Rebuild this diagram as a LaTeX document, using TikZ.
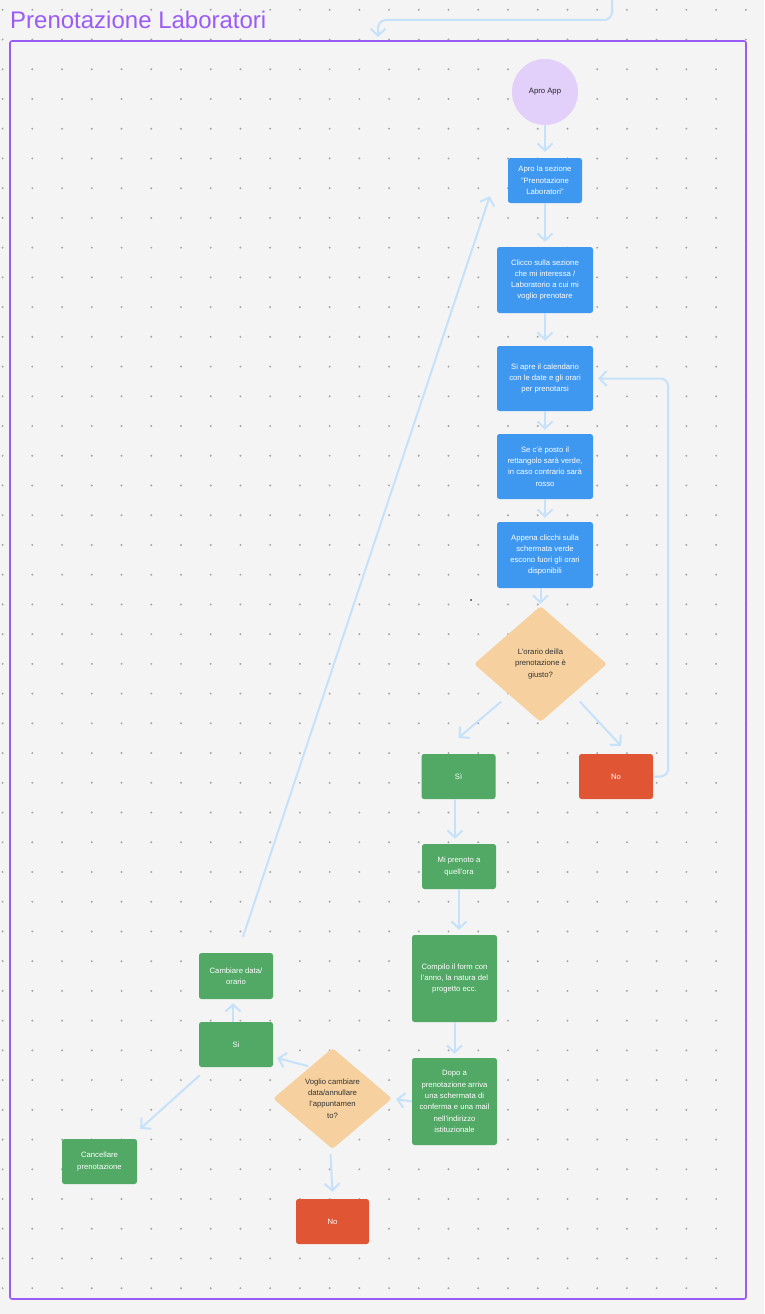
\documentclass[tikz,border=0pt]{standalone}
\usepackage{fontspec}
\setmainfont{Liberation Sans}
\usetikzlibrary{arrows.meta,shapes.geometric,calc}
\definecolor{bgc}{HTML}{F4F4F4}
\definecolor{dotc}{HTML}{A6A6A6}
\definecolor{purp}{HTML}{9A5CF4}
\definecolor{lav}{HTML}{E2CFFA}
\definecolor{bluec}{HTML}{3F98F0}
\definecolor{greenc}{HTML}{52A865}
\definecolor{redc}{HTML}{E05634}
\definecolor{orangec}{HTML}{F6D19F}
\definecolor{linkc}{HTML}{C6E2FA}
\tikzset{
  boxbase/.style={rectangle, rounded corners=2.5pt, inner sep=0pt, align=center,
    font=\fontsize{7.7}{11.3}\selectfont, text=white},
  bluebox/.style={boxbase, fill=bluec},
  greenbox/.style={boxbase, fill=greenc},
  redbox/.style={boxbase, fill=redc},
  decision/.style={diamond, fill=orangec, rounded corners=3pt, inner sep=0pt, aspect=1.15,
    align=center, font=\fontsize{7.7}{11.3}\selectfont, text=black!80},
  link/.style={draw=linkc, line width=2pt, -{Straight Barb[length=7pt,width=15pt]}, rounded corners=8pt},
}
\begin{document}
\begin{tikzpicture}[x=1pt,y=-1pt]
\fill[bgc] (0,0) rectangle (764,1314);
\useasboundingbox (0,0) rectangle (764,1314);
% dot grid
\foreach \i in {0,...,25}{
  \foreach \j in {0,...,44}{
    \fill[dotc] ({2.6+29.73*\i},{9.8+29.73*\j}) circle (1.1pt);
  }
}
% title and frame
\node[anchor=base west, text=purp, font=\fontsize{24}{27}\selectfont, inner sep=0pt] (title) at (10,28.5) {Prenotazione Laboratori};
\draw[purp, line width=1.6pt, rounded corners=2pt] (10,41) rectangle (746,1299);
\coordinate (topin) at (612,0);
\coordinate (topend) at (378,37);
\draw[link] (topin) -- (612,20) -- (378,20) -- (topend);
% nodes
\node[circle, fill=lav, minimum size=66pt, inner sep=0pt, font=\fontsize{7.7}{11.3}\selectfont, text=black!85] (app) at (545,92) {Apro App};
\node[bluebox, minimum width=74pt, minimum height=45pt] (b1) at (545,180.5) {Apro la sezione\\"Prenotazione\\Laboratori"};
\node[bluebox, minimum width=96pt, minimum height=66pt] (b2) at (545,280) {Clicco sulla sezione\\che mi interessa /\\Laboratorio a cui mi\\voglio prenotare};
\node[bluebox, minimum width=96pt, minimum height=65pt] (b3) at (545,378.5) {Si apre il calendario\\con le date e gli orari\\per prenotarsi};
\node[bluebox, minimum width=96pt, minimum height=65pt] (b4) at (545,466.5) {Se c'è posto il\\rettangolo sarà verde,\\in caso contrario sarà\\rosso};
\node[bluebox, minimum width=96pt, minimum height=66pt] (b5) at (545,555) {Appena clicchi sulla\\schermata verde\\escono fuori gli orari\\disponibili};
\node[decision, minimum width=133pt, minimum height=116pt] (d1) at (540.5,664) {L'orario deilla\\prenotazione è\\giusto?};
\node[greenbox, minimum width=74pt, minimum height=45pt] (si1) at (458.5,776.5) {Sì};
\node[redbox, minimum width=74pt, minimum height=45pt] (no1) at (616,776.5) {No};
\node[greenbox, minimum width=74pt, minimum height=45pt] (g1) at (459,866.5) {Mi prenoto a\\quell'ora};
\node[greenbox, minimum width=85pt, minimum height=87pt] (g2) at (454.5,978.5) {Compilo il form con\\l'anno, la natura del\\progetto ecc.};
\node[greenbox, minimum width=85pt, minimum height=87pt] (g3) at (454.5,1101.5) {Dopo a\\prenotazione arriva\\una schermata di\\conferma e una mail\\nell'indirizzo\\istituzionale};
\node[decision, minimum width=119pt, minimum height=101pt] (d2) at (332.5,1098.5) {Voglio cambiare\\data/annullare\\l'appuntamen\\to?};
\node[greenbox, minimum width=74pt, minimum height=46pt] (camb) at (236,976) {Cambiare data/\\orario};
\node[greenbox, minimum width=74pt, minimum height=45pt] (si2) at (236,1044.5) {Si};
\node[greenbox, minimum width=75pt, minimum height=45pt] (canc) at (99.5,1161.5) {Cancellare\\prenotazione};
\node[redbox, minimum width=73pt, minimum height=45pt] (no2) at (332.5,1221.5) {No};
\fill[black] (471,600) circle (0.8pt);
% connectors
\draw[link, shorten >=6pt] (app) -- (b1);
\draw[link, shorten >=5pt] (b1) -- (b2);
\draw[link, shorten >=5pt] (b2) -- (b3);
\draw[link, shorten >=4pt] (b3) -- (b4);
\draw[link, shorten >=4pt] (b4) -- (b5);
\draw[link, shorten >=2pt] (b5.south -| d1.north) -- (d1.north);
\draw[link] ([shift={(-6,8.5)}]d1.south west) -- ([shift={(0,-16)}]si1.north);
\draw[link] ([shift={(6,8.5)}]d1.south east) -- ([shift={(5,-8)}]no1.north);
\draw[link] (no1.east) -- ++(15,0) -- ++(0,-398) -- ([xshift=5pt]b3.east);
\draw[link, shorten >=5pt] ([xshift=-3.5pt]si1.south) -- ([xshift=-4pt]g1.north);
\draw[link, shorten >=5pt] (g1.south) -- ([xshift=4.5pt]g2.north);
\draw[link, shorten >=4pt] (g2.south) -- (g3.north);
\draw[link, shorten >=4pt] (g3.west) -- (d2.east);
\draw[link] ([shift={(5.5,-7)}]d2.north west) -- ([shift={(4,13.5)}]si2.east);
\draw[link, shorten >=4pt] ([xshift=-3pt]si2.north) -- ([xshift=-3pt]camb.south);
\draw[link] ([shift={(1,8)}]si2.south west) -- ([shift={(3,-10)}]canc.north east);
\draw[link] ([shift={(-2,5)}]d2.south) -- ([shift={(0,-7)}]no2.north);
\draw[link] ([shift={(7,-16)}]camb.north) -- ([shift={(-18,-7)}]b1.south west);
\end{tikzpicture}
\end{document}
